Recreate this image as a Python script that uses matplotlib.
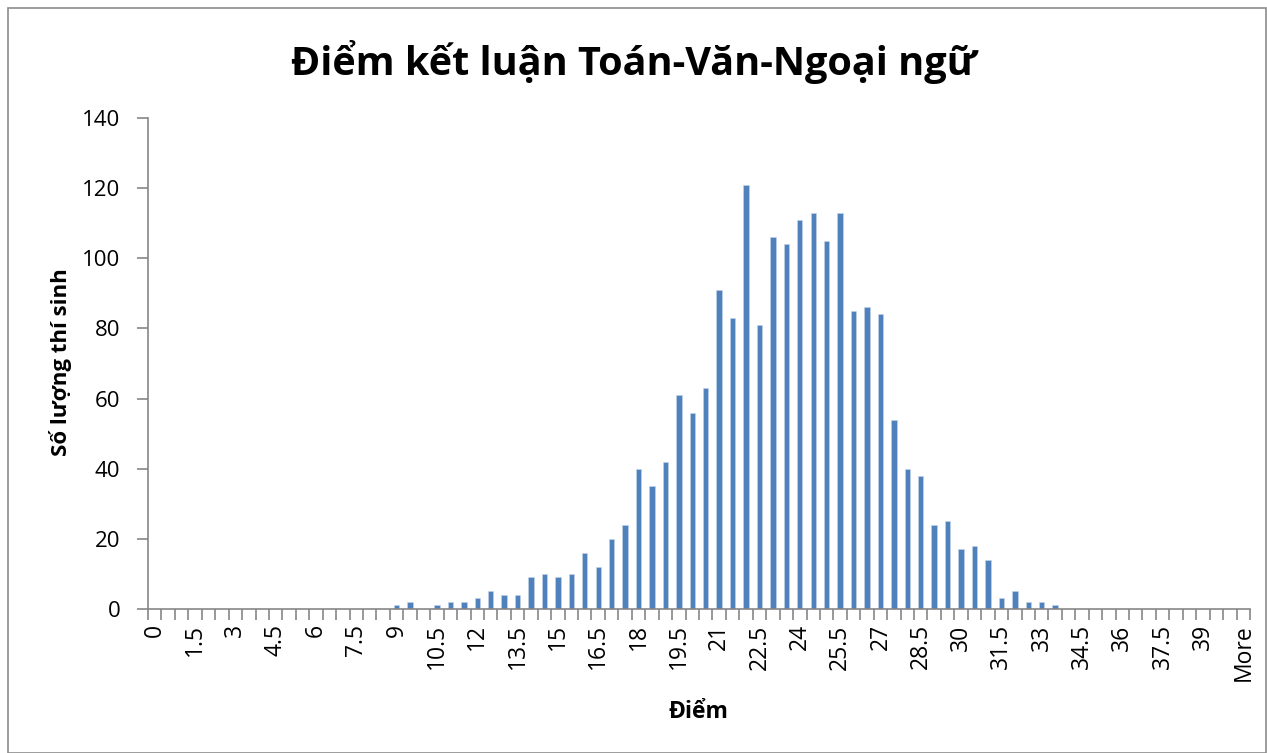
import numpy as np
import matplotlib
matplotlib.use('Agg')
import matplotlib.pyplot as plt
from matplotlib.patches import Rectangle

# bins 0, 0.5, ..., 40 then "More"
bins = [f'{v:g}' for v in np.arange(0, 40.5, 0.5)] + ['More']

# counts (non-zero bins only, everything else is 0)
nonzero = {
    9: 1, 9.5: 2, 10: 0, 10.5: 1, 11: 2, 11.5: 2, 12: 3, 12.5: 5, 13: 4,
    13.5: 4, 14: 9, 14.5: 10, 15: 9, 15.5: 10, 16: 16, 16.5: 12, 17: 20,
    17.5: 24, 18: 40, 18.5: 35, 19: 42, 19.5: 61, 20: 56, 20.5: 63, 21: 91,
    21.5: 83, 22: 121, 22.5: 81, 23: 106, 23.5: 104, 24: 111, 24.5: 113,
    25: 105, 25.5: 113, 26: 85, 26.5: 86, 27: 84, 27.5: 54, 28: 40,
    28.5: 38, 29: 24, 29.5: 25, 30: 17, 30.5: 18, 31: 14, 31.5: 3, 32: 5,
    32.5: 2, 33: 2, 33.5: 1,
}
counts = [nonzero.get(float(b), 0) if b != 'More' else 0 for b in bins]

title = 'Điểm kết luận Toán-Văn-Ngoại ngữ'
x_label = 'Điểm'
y_label = 'Số lượng thí sinh'

plt.rcParams['font.family'] = ['Open Sans', 'DejaVu Sans']

fig = plt.figure(figsize=(12.67, 7.53), dpi=100)
ax = fig.add_axes([148 / 1267, 1 - 609 / 753, 1102 / 1267, 491 / 753])

# grey outline around the whole chart
fig.patches.append(Rectangle((8 / 1267, 0.0), 1258 / 1267, 1 - 8 / 753,
                             transform=fig.transFigure, fill=False,
                             edgecolor='#8c8c8c', linewidth=1.2))

x = np.arange(len(bins))
ax.bar(x, counts, width=0.4, color='#4F81BD', edgecolor='#c6d4e8', linewidth=0.4)

ax.set_xlim(-0.5, len(bins) - 0.5)
ax.set_ylim(0, 140)
ax.set_yticks(range(0, 141, 20))

ax.set_xticks(x[::3])
ax.set_xticklabels(bins[::3], rotation=90, fontsize=16.5)
ax.set_xticks(np.arange(-0.5, len(bins)), minor=True)
ax.tick_params(axis='x', which='major', length=0, pad=11)
ax.tick_params(axis='x', which='minor', length=8, color='#868686', width=1.2)
ax.tick_params(axis='y', labelsize=16, length=8, pad=12, color='#868686', width=1.2)

for s in ['top', 'right']:
    ax.spines[s].set_visible(False)
for s in ['left', 'bottom']:
    ax.spines[s].set_color('#868686')
    ax.spines[s].set_linewidth(1.2)

fig.text(0.5, 1 - 62 / 753, title, ha='center', va='center',
         fontsize=28.5, fontweight='bold')
fig.text(698 / 1267, 1 - 712 / 753, x_label, ha='center', va='center',
         fontsize=16.5, fontweight='bold')
fig.text(61 / 1267, 1 - 362 / 753, y_label, ha='center', va='center',
         rotation=90, fontsize=16, fontweight='bold')

fig.savefig('out.png', dpi=100)
